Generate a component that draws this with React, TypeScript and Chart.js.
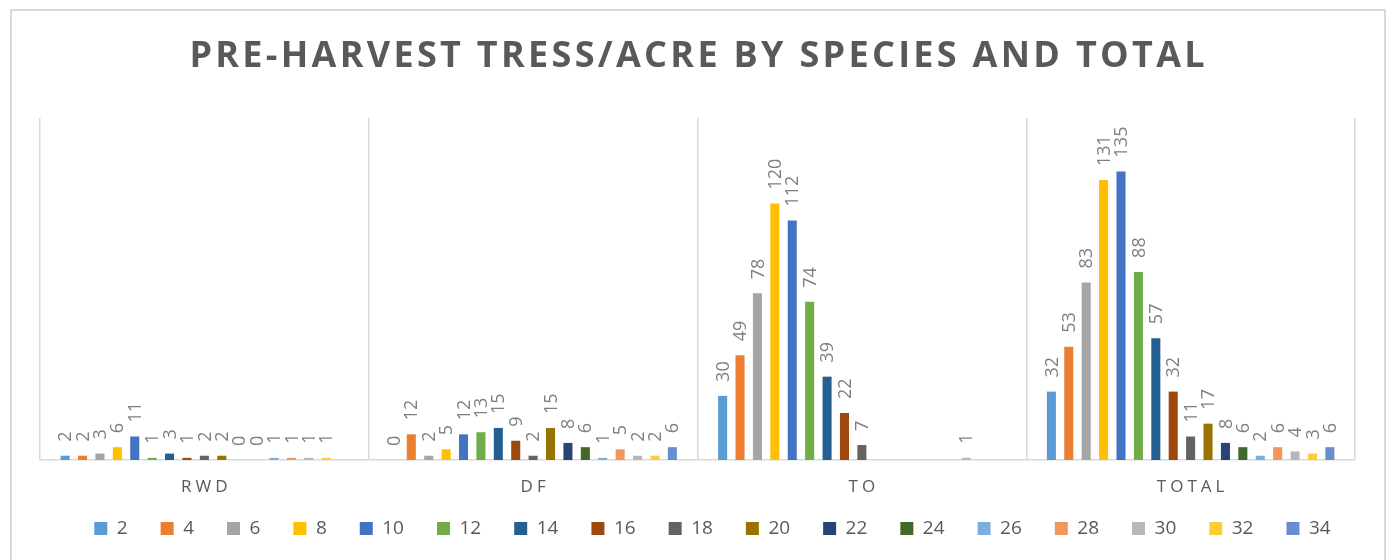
import React, { useEffect, useRef } from "react";
import { Chart, registerables } from "chart.js";

Chart.register(...registerables);

const titleText = "PRE-HARVEST TRESS/ACRE BY SPECIES AND TOTAL";
const categories = ["RWD", "DF", "TO", "TOTAL"];
const seriesNames = ["2", "4", "6", "8", "10", "12", "14", "16", "18", "20", "22", "24", "26", "28", "30", "32", "34"];

// values per series: [RWD, DF, TO, TOTAL]
const d2 = [2, 0, 30, 32];
const d4 = [2, 12, 49, 53];
const d6 = [3, 2, 78, 83];
const d8 = [6, 5, 120, 131];
const d10 = [11, 12, 112, 135];
const d12 = [1, 13, 74, 88];
const d14 = [3, 15, 39, 57];
const d16 = [1, 9, 22, 32];
const d18 = [2, 2, 7, 11];
const d20 = [2, 15, null, 17];
const d22 = [0, 8, null, 8];
const d24 = [0, 6, null, 6];
const d26 = [1, 1, null, 2];
const d28 = [1, 5, null, 6];
const d30 = [1, 2, 1, 4];
const d32 = [1, 2, null, 3];
const d34 = [null, 6, null, 6];

const seriesValues = [d2, d4, d6, d8, d10, d12, d14, d16, d18, d20, d22, d24, d26, d28, d30, d32, d34];

const colors = [
  "#5B9BD5", "#ED7D31", "#A5A5A5", "#FFC000", "#4472C4", "#70AD47",
  "#255E91", "#9E480E", "#636363", "#997300", "#264478", "#43682B",
  "#7CAFDD", "#F1975A", "#B7B7B7", "#FFCD33", "#698ED0",
];

const FONT = "'Open Sans', 'DejaVu Sans', sans-serif";

function spacedText(ctx: CanvasRenderingContext2D, text: string, cx: number, cy: number, ls: number) {
  (ctx as any).letterSpacing = ls + "px";
  const w = ctx.measureText(text).width;
  ctx.textAlign = "left";
  ctx.textBaseline = "middle";
  ctx.fillText(text, cx - (w - ls) / 2, cy);
  (ctx as any).letterSpacing = "0px";
}

const customPlugin = {
  id: "customText",
  afterLayout(chart: any) {
    if (chart.legend) {
      chart.legend.left += 15;
      chart.legend.right += 15;
    }
  },
  afterDraw(chart: any) {
    const ctx: CanvasRenderingContext2D = chart.ctx;
    ctx.save();
    // title
    ctx.fillStyle = "#595959";
    ctx.font = `bold 36px ${FONT}`;
    spacedText(ctx, titleText, chart.width / 2 - 1, 46, 3.3);
    // category labels
    const xs = chart.scales.x;
    ctx.font = `17px ${FONT}`;
    categories.forEach((c, i) => spacedText(ctx, c, xs.getPixelForValue(i), 476, 4));
    // data labels
    ctx.fillStyle = "#7f7f7f";
    ctx.font = `18px ${FONT}`;
    chart.data.datasets.forEach((ds: any, di: number) => {
      const meta = chart.getDatasetMeta(di);
      meta.data.forEach((el: any, i: number) => {
        const v = ds.data[i];
        if (v === null || v === undefined) return;
        ctx.save();
        ctx.translate(el.x + 1, el.y - 14);
        ctx.rotate(-Math.PI / 2);
        ctx.textAlign = "left";
        ctx.textBaseline = "middle";
        ctx.fillText(String(v), 0, 0);
        ctx.restore();
      });
    });
    ctx.restore();
  },
};

export default function App() {
  const ref = useRef<HTMLCanvasElement | null>(null);

  useEffect(() => {
    if (!ref.current) return;
    const chart = new Chart(ref.current, {
      type: "bar",
      data: {
        labels: categories,
        datasets: seriesNames.map((name, i) => ({
          label: name,
          data: seriesValues[i],
          backgroundColor: colors[i],
          borderWidth: 0,
          categoryPercentage: 0.9,
          barPercentage: 0.52,
        })),
      },
      options: {
        animation: false,
        responsive: false,
        layout: { padding: { top: 107, left: 28, right: 29, bottom: 19 } },
        plugins: {
          title: { display: false },
          tooltip: { enabled: false },
          legend: {
            position: "bottom",
            labels: {
              boxWidth: 13,
              boxHeight: 13,
              padding: 33,
              color: "#595959",
              font: { size: 19, family: FONT },
            },
          },
        },
        scales: {
          x: {
            type: "category",
            offset: true,
            grid: { offset: true, color: "#d9d9d9", lineWidth: 1.5, drawTicks: false },
            border: { color: "#d9d9d9", width: 1.5 },
            ticks: { display: false },
            afterFit: (scale: any) => {
              scale.height = 26;
            },
          },
          y: {
            display: false,
            min: 0,
            max: 160,
          },
        },
      } as any,
      plugins: [customPlugin],
    });
    return () => chart.destroy();
  }, []);

  return (
    <div
      style={{
        position: "absolute",
        left: 10,
        top: 9,
        width: 1376,
        height: 560,
        border: "2px solid #d9d9d9",
        boxSizing: "border-box",
        background: "#fff",
      }}
    >
      <canvas ref={ref} width={1372} height={556} style={{ display: "block" }} />
    </div>
  );
}
